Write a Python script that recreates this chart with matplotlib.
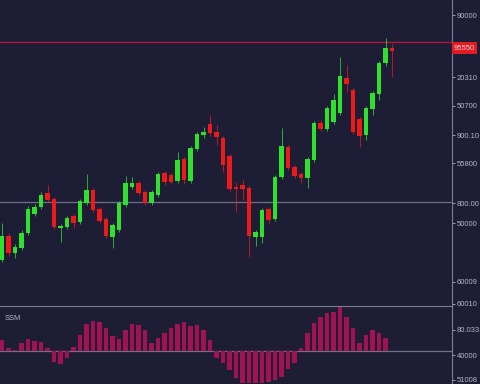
import matplotlib as mpl
mpl.use('Agg')

import matplotlib.pyplot as plt
from matplotlib.patches import Rectangle

plt.rcParams['font.family'] = ['Liberation Sans', 'DejaVu Sans']

# candle data (arbitrary price units)
opens = [46, 70, 53, 58, 73, 92, 99, 113, 107, 78, 79, 90, 84, 103, 116, 97, 87, 69, 76, 101,
         119, 123, 114, 103, 111, 133, 131, 125, 147, 125, 157, 171, 182, 174, 168, 150, 119, 121, 118, 69,
         69, 97, 87, 129, 159, 139, 132, 128, 146, 183, 177, 184, 193, 228, 216, 187, 171, 197, 212, 243, 258]
closes = [70, 53, 59, 73, 97, 99, 111, 106, 79, 80, 88, 83, 105, 116, 96, 85, 70, 81, 103, 123,
          123, 113, 103, 114, 132, 124, 124, 146, 126, 158, 172, 174, 173, 169, 141, 117, 117, 117, 70, 74,
          96, 86, 129, 160, 138, 130, 128, 147, 183, 177, 198, 206, 230, 222, 174, 170, 198, 213, 243, 258, 255]
highs = [83, 73, 62, 76, 100, 102, 114, 121, 109, 82, 90, 92, 107, 132, 118, 99, 89, 83, 105, 130,
         129, 125, 116, 116, 134, 135, 133, 154, 149, 160, 174, 179, 191, 181, 170, 152, 124, 126, 120, 76,
         98, 99, 131, 178, 161, 141, 134, 149, 185, 186, 200, 212, 249, 241, 218, 189, 200, 215, 245, 268, 262]
lows = [44, 50, 48, 56, 71, 90, 97, 104, 77, 64, 77, 78, 82, 101, 94, 83, 68, 58, 74, 99,
        117, 111, 101, 101, 109, 121, 122, 123, 122, 123, 155, 168, 170, 161, 134, 115, 94, 106, 49, 60,
        63, 83, 85, 127, 136, 128, 123, 118, 144, 175, 175, 182, 191, 214, 172, 159, 166, 191, 206, 240, 229]

# oscillator histogram
osc = [10.7, 2.3, 0.7, 8, 11.3, 9.7, 8.7, 2.3, -11, -13.3, -7.7,
       4, 15.7, 26.7, 29.7, 29, 22.3, 14.7, 11.3, 20.7, 26.7, 25.7, 20.7, 7.3, 13, 17.3, 22.3, 26.7, 28.3,
       25, 25.7, 20.7, 10.7,
       -7.7, -12.7, -19.3, -27.7, -32.7, -32.7, -32.7, -32.7, -31, -29.3, -26, -18.7, -12.7,
       2.3, 17.3, 27.3, 33.3, 37.3, 39, 44, 34, 22.3, 7.3, 15.7, 20.7, 17.3, 12.3]

last_price = 264
level_line = 104

main_ticks = [291, 229, 200, 171, 143, 103, 83, 24, 2]
main_labels = ["90000", "20310", "50700", "900.10", "55800", "800.00", "50000", "60009", "60010"]
osc_ticks = [20.7, -4.3, -29.3]
osc_labels = ["80.033", "40000", "51008"]
price_label = "95550"
osc_name = "SSM"

bg = "#1d1e36"
up = "#2fe02f"
down = "#ec1a1a"
axis_c = "#7c7d95"
text_c = "#b4b5c6"

fig = plt.figure(figsize=(4.8, 3.84), dpi=100, facecolor=bg)
ax = fig.add_axes([0, 78 / 384, 452 / 480, 306 / 384], facecolor=bg)
ax2 = fig.add_axes([0, 0, 452 / 480, 78 / 384], facecolor=bg)

w = 0.68
for i, (o, h, l, c) in enumerate(zip(opens, highs, lows, closes)):
    col = up if c >= o else down
    ax.vlines(i, l, h, color=col, lw=0.7, alpha=0.75, zorder=2)
    ax.add_patch(Rectangle((i - w / 2, min(o, c)), w, max(abs(c - o), 1.2),
                           facecolor=col, edgecolor='none', zorder=3))

xmin, xmax = -2 / 6.5, 450 / 6.5
ax.set_xlim(xmin, xmax)
ax.set_ylim(0, 306)
ax.axhline(last_price, color="#b3173f", lw=1.0, zorder=1)
ax.axhline(level_line, color="#6e6f88", lw=0.9, zorder=1)

ax2.bar(range(len(osc)), osc, width=0.72, color="#a01352", zorder=2)
ax2.axhline(0, color="#6e6f88", lw=0.9, zorder=1)
ax2.set_xlim(xmin, xmax)
ax2.set_ylim(-33.3, 44.7)
ax2.text(0.01, 0.84, osc_name, transform=ax2.transAxes, color=text_c, fontsize=5.5, va='center')

for a, ticks, labels in ((ax, main_ticks, main_labels), (ax2, osc_ticks, osc_labels)):
    for s in ('left', 'bottom'):
        a.spines[s].set_visible(False)
    a.spines['top'].set_visible(a is ax2)
    a.spines['top'].set_color(axis_c)
    a.spines['right'].set_color(axis_c)
    a.spines['right'].set_linewidth(0.8)
    a.set_xticks([])
    a.yaxis.tick_right()
    a.set_yticks(ticks)
    a.set_yticklabels(labels)
    a.tick_params(axis='y', colors=text_c, labelcolor=text_c, labelsize=5.5, length=2, width=0.6, pad=1.5)
    for lab in a.get_yticklabels():
        lab.set_clip_on(False)

# red price box on the right axis
ax.text(1.004, 258 / 306, price_label, transform=ax.transAxes, ha='left', va='center',
        fontsize=5.5, color="#ffd0d0",
        bbox=dict(boxstyle='square,pad=0.3', facecolor="#e01b24", edgecolor='none'))

fig.savefig("out.png", dpi=100, facecolor=bg)
